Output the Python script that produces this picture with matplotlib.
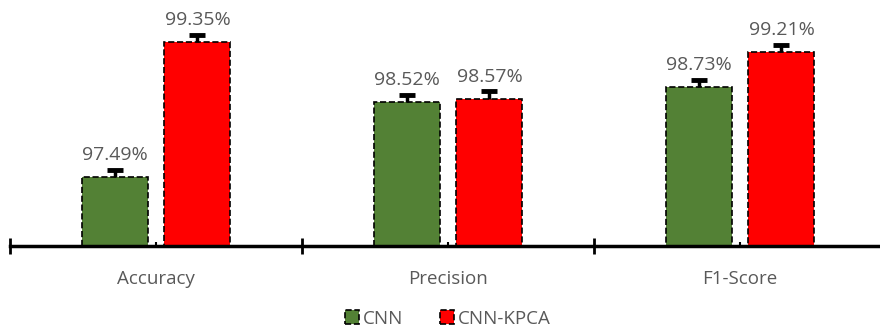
import numpy as np
import matplotlib.pyplot as plt

# データ
categories = ["Accuracy", "Precision", "F1-Score"]
cnn = [97.49, 98.52, 98.73]
cnn_kpca = [99.35, 98.57, 99.21]
cnn_err = [0.1, 0.1, 0.1]
kpca_err = [0.1, 0.1, 0.1]
series_names = ["CNN", "CNN-KPCA"]

plt.rcParams['font.family'] = ['Open Sans', 'DejaVu Sans']

fig = plt.figure(figsize=(8.8, 3.36), dpi=100)
ax = fig.add_axes([10 / 880, 1 - 246 / 336, 876 / 880, 246 / 336])

x = np.arange(len(categories))
w = 0.226
off = 0.142
colors = ["#538135", "#ff0000"]

for vals, errs, sign, col, name in [(cnn, cnn_err, -1, colors[0], series_names[0]),
                                     (cnn_kpca, kpca_err, 1, colors[1], series_names[1])]:
    xs = x + sign * off
    top = np.array(vals) + np.array(errs)
    ax.bar(xs, vals, width=w, color=col, edgecolor="black",
           linestyle="--", linewidth=1.2, label=name, zorder=2)
    # 上側のみのエラーバー
    ax.vlines(xs, vals, top, color="black", linewidth=2.5, zorder=3)
    ax.plot(xs, top, linestyle="none", marker="_", markersize=11,
            markeredgewidth=3.5, color="black", zorder=3)
    for xi, v in zip(xs, vals):
        ax.text(xi, v + 0.18, f"{v:.2f}%", ha="center", va="bottom",
                fontsize=14, color="#595959", clip_on=False)

ax.set_ylim(96.54, 99.93)
ax.set_xlim(-0.5, 2.5)
for s in ["top", "left", "right"]:
    ax.spines[s].set_visible(False)
ax.spines["bottom"].set_linewidth(2.5)
ax.set_yticks([])

ax.set_xticks([-0.5, 0.5, 1.5, 2.5])
ax.set_xticklabels([])
ax.tick_params(axis="x", which="major", direction="inout", length=11, width=2)
ax.set_xticks(x, minor=True)
ax.set_xticklabels(categories, minor=True)
ax.tick_params(axis="x", which="minor", direction="in", length=3, width=1.5,
               pad=17, labelsize=13.5, labelcolor="#595959")

fig.legend(loc="lower center", bbox_to_anchor=(0.509, -0.025), ncol=2, frameon=False,
           handlelength=0.75, handleheight=0.75, handletextpad=0.2, columnspacing=2,
           fontsize=13.5, labelcolor="#595959")

plt.savefig("out.png", dpi=100)
